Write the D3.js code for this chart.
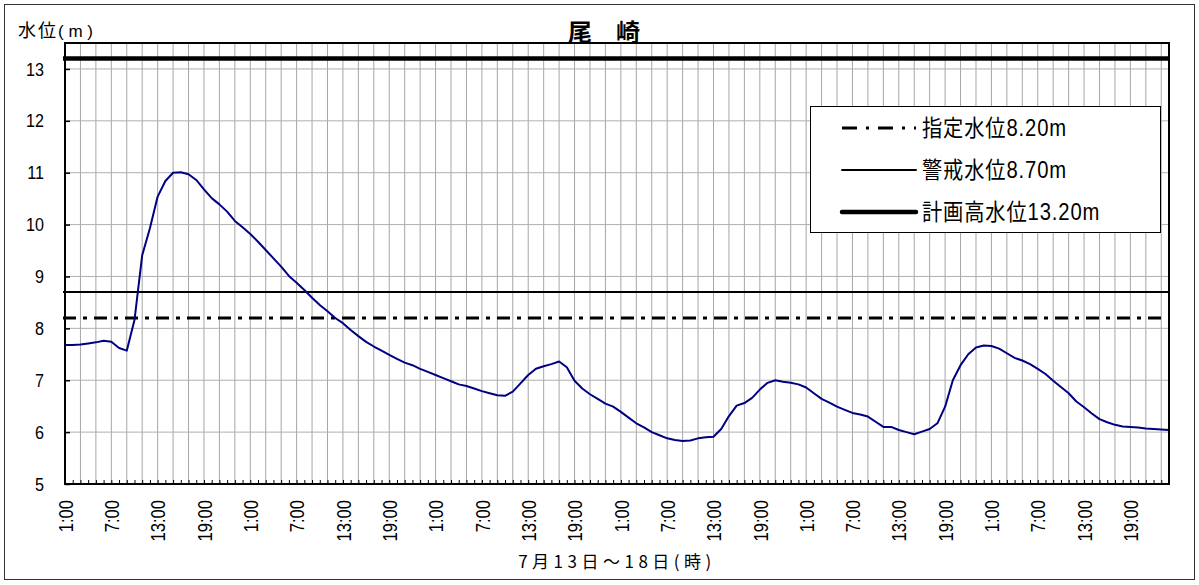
<!DOCTYPE html>
<html>
<head>
<meta charset="utf-8">
<script src="https://cdn.jsdelivr.net/npm/d3@7"></script>
<style>
  body { margin: 0; background: #fff; }
  text { font-family: "Liberation Sans", Arial, sans-serif; }
  .jp { font-family: "Noto Sans CJK JP", sans-serif; }
  .mix { font-family: "Liberation Sans", "Noto Sans CJK JP", sans-serif; }
</style>
</head>
<body>
<svg id="vis"></svg>
<script>
(function() {
  // hourly water level, 7/13 1:00 .. 7/18 24:00
  var levels = [
    7.68, 7.68, 7.69, 7.71, 7.73, 7.76, 7.74, 7.62, 7.57, 8.16, 9.41, 9.93,
    10.54, 10.84, 11.00, 11.01, 10.97, 10.86, 10.68, 10.51, 10.39, 10.25, 10.07, 9.95,
    9.82, 9.67, 9.51, 9.35, 9.19, 9.01, 8.88, 8.74, 8.59, 8.45, 8.33, 8.20,
    8.10, 7.97, 7.85, 7.74, 7.65, 7.57, 7.49, 7.41, 7.34, 7.29, 7.22, 7.16,
    7.10, 7.04, 6.98, 6.92, 6.89, 6.84, 6.79, 6.75, 6.71, 6.70, 6.78, 6.94,
    7.10, 7.22, 7.27, 7.31, 7.36, 7.25, 6.99, 6.84, 6.73, 6.64, 6.55, 6.49,
    6.39, 6.28, 6.17, 6.09, 6.00, 5.94, 5.88, 5.85, 5.83, 5.84, 5.88, 5.90,
    5.91, 6.06, 6.31, 6.51, 6.56, 6.66, 6.82, 6.95, 7.00, 6.97, 6.95, 6.92,
    6.86, 6.75, 6.64, 6.57, 6.49, 6.43, 6.37, 6.34, 6.30, 6.20, 6.10, 6.10,
    6.04, 6.00, 5.96, 6.01, 6.06, 6.17, 6.49, 7.00, 7.29, 7.50, 7.63, 7.67,
    7.66, 7.61, 7.52, 7.43, 7.38, 7.31, 7.22, 7.12, 6.99, 6.87, 6.75, 6.59,
    6.48, 6.36, 6.25, 6.19, 6.14, 6.11, 6.10, 6.09, 6.07, 6.06, 6.05, 6.04
  ];
  var hourLabels = ["1:00", "7:00", "13:00", "19:00"];
  var yTicks = [5, 6, 7, 8, 9, 10, 11, 12, 13];

  var refLevels = [
    { name: "指定水位8.20m", value: 8.2, width: 3, dash: "13,7,4,7" },
    { name: "警戒水位8.70m", value: 8.7, width: 2, dash: null },
    { name: "計画高水位13.20m", value: 13.2, width: 4.5, dash: null }
  ];

  var width = 1199, height = 585;
  var left = 65, right = 1169, top = 43, bottom = 484;

  var svg = d3.select("#vis").attr("width", width).attr("height", height);

  // outer frame
  svg.append("rect").attr("x", 4.5).attr("y", 4.5)
    .attr("width", 1190).attr("height", 575)
    .attr("fill", "none").attr("stroke", "#333").attr("stroke-width", 1);

  var x = d3.scaleLinear().domain([0, levels.length - 1]).range([left, right]);
  var y = d3.scaleLinear().domain([5, 13.5]).range([bottom, top]);

  // vertical grid every 2 hours
  svg.append("g").selectAll("line")
    .data(d3.range(2, levels.length, 2))
    .enter().append("line")
    .attr("x1", function(d) { return x(d); }).attr("x2", function(d) { return x(d); })
    .attr("y1", top).attr("y2", bottom)
    .attr("stroke", "#a6a6a6").attr("stroke-width", 1);

  // horizontal grid
  svg.append("g").selectAll("line")
    .data(yTicks.slice(1))
    .enter().append("line")
    .attr("x1", left).attr("x2", right)
    .attr("y1", function(d) { return y(d); }).attr("y2", function(d) { return y(d); })
    .attr("stroke", "#b0b0b0").attr("stroke-width", 1);

  // reference levels
  svg.append("g").selectAll("line")
    .data(refLevels)
    .enter().append("line")
    .attr("x1", left - 2).attr("x2", right)
    .attr("y1", function(d) { return y(d.value); }).attr("y2", function(d) { return y(d.value); })
    .attr("stroke", "#000")
    .attr("stroke-width", function(d) { return d.width; })
    .attr("stroke-dasharray", function(d) { return d.dash; });

  // water level line
  var line = d3.line()
    .x(function(d, i) { return x(i); })
    .y(function(d) { return y(d); });

  svg.append("path").datum(levels)
    .attr("d", line)
    .attr("fill", "none")
    .attr("stroke", "#000080")
    .attr("stroke-width", 2)
    .attr("stroke-linejoin", "round");

  // plot border
  svg.append("rect").attr("x", left).attr("y", top)
    .attr("width", right - left).attr("height", bottom - top)
    .attr("fill", "none").attr("stroke", "#000").attr("stroke-width", 2);

  // y axis (narrow-looking digits, so squeeze horizontally)
  var yAxis = d3.axisLeft(y).tickValues(yTicks).tickSize(-5);
  var gy = svg.append("g").attr("transform", "translate(" + left + ",0)").call(yAxis);
  gy.select(".domain").remove();
  gy.selectAll(".tick line").attr("stroke", "#000").attr("stroke-width", 1.5);
  gy.selectAll(".tick text").attr("font-size", 19).attr("fill", "#000")
    .attr("font-family", "Liberation Sans, Arial, sans-serif")
    .attr("x", 0)
    .attr("transform", "translate(-21,0) scale(0.85,1)");

  // x axis
  var xAxis = d3.axisBottom(x)
    .tickValues(d3.range(0, levels.length))
    .tickSize(-4)
    .tickFormat(function(d) { return d % 6 === 0 ? hourLabels[(d / 6) % 4] : ""; });
  var gx = svg.append("g").attr("transform", "translate(0," + bottom + ")").call(xAxis);
  gx.select(".domain").remove();
  gx.selectAll(".tick line").attr("stroke", "#000").attr("stroke-width", 1);
  gx.selectAll(".tick text")
    .attr("font-size", 20).attr("fill", "#000")
    .attr("font-family", "Liberation Sans, Arial, sans-serif")
    .attr("text-anchor", "end")
    .attr("dy", "0.36em")
    .attr("transform", "translate(0,16) rotate(-90) scale(0.83,1)")
    .attr("x", 0).attr("y", 0);

  // titles
  svg.append("text").attr("class", "jp")
    .attr("x", 604).attr("y", 41)
    .attr("text-anchor", "middle")
    .attr("font-size", 24).attr("font-weight", "bold")
    .text("尾\u3000崎");

  var yl = svg.append("text").attr("x", 18).attr("y", 37).attr("font-size", 18);
  yl.append("tspan").attr("class", "jp").attr("letter-spacing", "2px").text("水位");
  yl.append("tspan").attr("font-size", 17).attr("xml:space", "preserve").text("( m )");

  svg.append("text").attr("class", "jp")
    .attr("x", 617).attr("y", 568)
    .attr("text-anchor", "middle")
    .attr("font-size", 17)
    .attr("letter-spacing", "4.5px")
    .text("7月13日～18日(時)");

  // legend
  var legend = svg.append("g");
  legend.append("rect").attr("x", 810.5).attr("y", 106.5)
    .attr("width", 350).attr("height", 126)
    .attr("fill", "#fff").attr("stroke", "#000").attr("stroke-width", 1);

  var item = legend.selectAll("g.item")
    .data(refLevels)
    .enter().append("g").attr("class", "item")
    .attr("transform", function(d, i) { return "translate(0," + (128 + i * 42) + ")"; });

  item.append("line")
    .attr("x1", 842).attr("x2", 916).attr("y1", 0).attr("y2", 0)
    .attr("stroke", "#000")
    .attr("stroke-linecap", function(d) { return d.dash ? "butt" : "round"; })
    .attr("stroke-width", function(d) { return d.width; })
    .attr("stroke-dasharray", function(d) { return d.dash ? "15,9,3,9" : null; });

  item.append("text").attr("class", "mix")
    .attr("x", 0).attr("y", 0).attr("dy", "0.36em")
    .attr("transform", "translate(922,0) scale(0.88,1)")
    .attr("font-size", 23)
    .attr("letter-spacing", "1px")
    .text(function(d) { return d.name; });
}());
</script>
</body>
</html>
